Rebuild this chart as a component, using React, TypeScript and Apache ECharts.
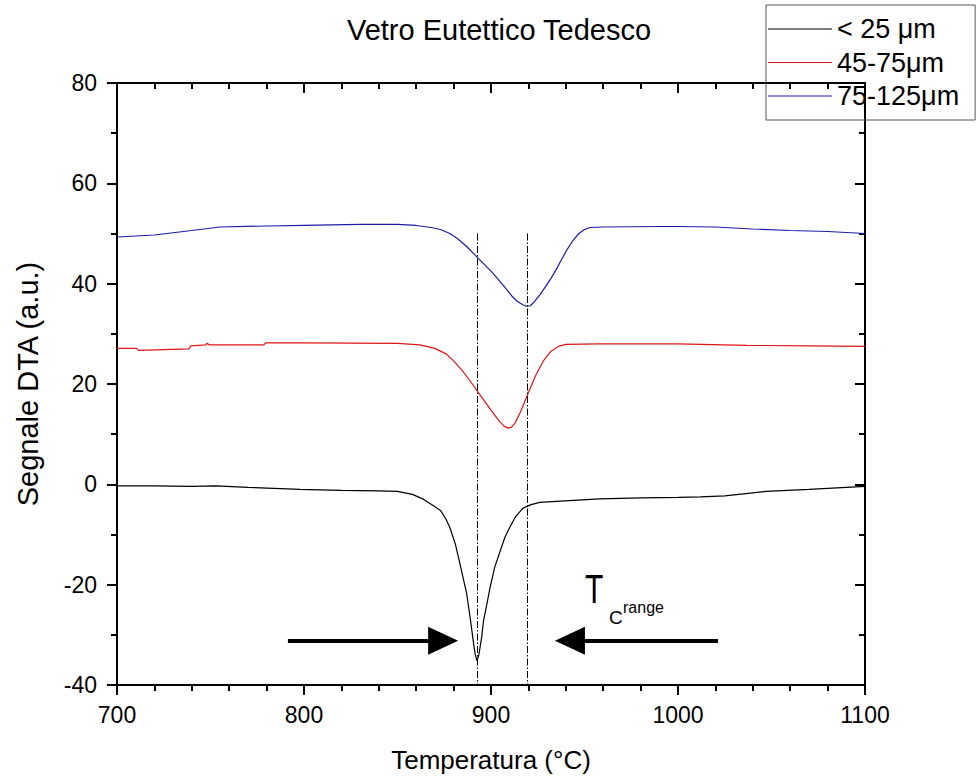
import React, { useEffect, useRef } from "react";
import * as echarts from "echarts";

const FONT = "'Liberation Sans', Arial, sans-serif";

const seriesNames = ["< 25 μm", "45-75μm", "75-125μm"];
const seriesColors = ["#000000", "#e01515", "#1c1ca8"];

// < 25 µm
const blackT = [700, 720, 740, 753, 770, 798, 820, 840, 850, 858, 864, 869, 873, 876, 878, 881, 883, 885, 887, 889, 890.5, 891.5, 892.5, 893.5, 895, 896, 898, 899.5, 902, 905, 907.5, 910, 913, 917, 921, 926, 935, 944, 958, 980, 1000, 1012, 1025, 1035, 1047, 1070, 1100];
const blackV = [-0.3, -0.3, -0.4, -0.3, -0.6, -1.0, -1.2, -1.3, -1.4, -2.0, -3.0, -4.2, -5.2, -7.0, -8.6, -12, -15.2, -18.5, -21.8, -27, -31.2, -33.8, -35.2, -34, -30.5, -27.2, -23.5, -20.6, -16.5, -13.2, -10.5, -8.6, -6.5, -4.8, -4.1, -3.6, -3.4, -3.2, -2.9, -2.7, -2.6, -2.5, -2.3, -1.9, -1.4, -1.0, -0.4];

// 45-75 µm
const redT = [700, 710.5, 711.5, 738.5, 739.5, 747.5, 748, 749.5, 778.5, 779.5, 800, 850, 862, 870, 876, 880, 885, 890, 895, 900, 904, 907, 909, 911, 913, 916, 920, 924, 928, 932, 936, 940, 958, 1000, 1037, 1070, 1100];
const redV = [27.1, 27.1, 26.7, 27.0, 27.6, 27.8, 28.1, 27.8, 27.8, 28.2, 28.2, 28.1, 27.8, 27.1, 26.0, 24.6, 22.5, 20.0, 17.4, 14.8, 12.8, 11.6, 11.2, 11.4, 12.3, 14.6, 18.3, 21.8, 24.6, 26.5, 27.5, 27.9, 28.0, 28.0, 27.7, 27.6, 27.5];

// 75-125 µm
const blueT = [700, 720, 740, 755, 780, 800, 830, 850, 860, 868, 873, 878, 882, 887, 892, 896, 900, 904, 908, 911, 914, 917, 919, 921, 923, 926, 929, 932, 935, 938, 941, 944, 947, 950, 953, 960, 990, 1000, 1020, 1040, 1060, 1080, 1100];
const blueV = [49.3, 49.7, 50.6, 51.3, 51.5, 51.6, 51.8, 51.8, 51.6, 51.2, 50.8, 50.0, 49.0, 47.4, 45.5, 44.0, 42.5, 40.8, 39.0, 37.6, 36.5, 35.8, 35.5, 35.6, 36.3, 37.7, 39.3, 41.0, 42.9, 45.0, 47.0, 48.7, 50.0, 50.8, 51.2, 51.3, 51.4, 51.4, 51.3, 50.9, 50.6, 50.4, 50.0];

// crystallisation range markers
const rangeT = [892.5, 919.5];
const rangeTop = 50;
const rangeBottom = -40;

// arrows (data coords)
const arrowY = -31.2;
const arrowRight = [791.4, 874.4]; // tail, head centre
const arrowLeft = [1021.4, 942.2];

const xTicks = { min: 700, max: 1100, interval: 100 };
const yTicks = { min: -40, max: 80, interval: 20 };

const zip = (t: number[], v: number[]) => t.map((x, i) => [x, v[i]]);

export default function App() {
  const ref = useRef<HTMLDivElement>(null);
  useEffect(() => {
    if (!ref.current) return;
    const chart = echarts.init(ref.current, undefined, { renderer: "svg" });
    const axisLine = { show: true, onZero: false, lineStyle: { color: "#000", width: 2 } };
    const baseX = {
      type: "value" as const,
      min: xTicks.min,
      max: xTicks.max,
      interval: xTicks.interval,
      splitLine: { show: false },
      axisLine,
      minorTick: { show: true, splitNumber: 5, length: 6, lineStyle: { color: "#000", width: 2 } },
    };
    const baseY = {
      type: "value" as const,
      min: yTicks.min,
      max: yTicks.max,
      interval: yTicks.interval,
      splitLine: { show: false },
      axisLine,
      minorTick: { show: true, splitNumber: 2, length: 6, lineStyle: { color: "#000", width: 2 } },
    };
    const datas = [zip(blackT, blackV), zip(redT, redV), zip(blueT, blueV)];
    const series: any[] = datas.map((d, i) => ({
      name: seriesNames[i],
      type: "line",
      data: d,
      symbol: "none",
      lineStyle: { color: seriesColors[i], width: 1.2 },
      itemStyle: { color: seriesColors[i] },
      silent: true,
    }));
    series.push({
      name: "markers",
      type: "line",
      data: [],
      silent: true,
      markLine: {
        silent: true,
        symbol: ["none", "none"],
        label: { show: false },
        lineStyle: { color: "#000", width: 1, type: [7, 2, 1.5, 2] },
        data: rangeT.map((t) => [
          { coord: [t, rangeTop] },
          { coord: [t, rangeBottom] },
        ]),
      },
    });
    series.push({
      name: "arrows",
      type: "line",
      data: [],
      silent: true,
      markLine: {
        silent: true,
        symbol: ["none", "triangle"],
        symbolSize: [28, 30],
        label: { show: false },
        lineStyle: { color: "#000", width: 4, type: "solid" },
        data: [
          [{ coord: [arrowRight[0], arrowY] }, { coord: [arrowRight[1], arrowY] }],
          [{ coord: [arrowLeft[0], arrowY] }, { coord: [arrowLeft[1], arrowY] }],
        ],
      },
    });

    chart.setOption({
      animation: false,
      textStyle: { fontFamily: FONT },
      title: {
        text: "Vetro Eutettico Tedesco",
        left: 494,
        textAlign: "center",
        top: 10,
        textStyle: { fontFamily: FONT, fontSize: 29, fontWeight: "normal", color: "#000" },
      },
      legend: {
        data: seriesNames,
        orient: "vertical",
        left: 766,
        top: 5,
        padding: [10, 16, 10, 2],
        itemGap: 5.5,
        itemWidth: 64,
        itemHeight: 1,
        icon: "rect",
        borderColor: "#555",
        borderWidth: 1,
        textStyle: { fontFamily: FONT, fontSize: 27, color: "#000", lineHeight: 28 },
      },
      grid: { left: 117, right: 111, top: 83, bottom: 95 },
      xAxis: [
        {
          ...baseX,
          position: "bottom",
          name: "Temperatura (°C)",
          nameLocation: "middle",
          nameGap: 62,
          nameTextStyle: { fontFamily: FONT, fontSize: 26, color: "#000" },
          axisTick: { show: true, inside: false, length: 10, lineStyle: { color: "#000", width: 2 } },
          axisLabel: { show: true, margin: 18, fontFamily: FONT, fontSize: 23, color: "#000", formatter: (v: number) => String(v) },
        },
        {
          ...baseX,
          position: "top",
          axisTick: { show: true, inside: true, length: 10, lineStyle: { color: "#000", width: 2 } },
          axisLabel: { show: false },
        },
      ],
      yAxis: [
        {
          ...baseY,
          position: "left",
          name: "Segnale DTA (a.u.)",
          nameLocation: "middle",
          nameGap: 75,
          nameTextStyle: { fontFamily: FONT, fontSize: 29, color: "#000" },
          axisTick: { show: true, inside: false, length: 10, lineStyle: { color: "#000", width: 2 } },
          axisLabel: { show: true, margin: 20, fontFamily: FONT, fontSize: 23, color: "#000", formatter: (v: number) => String(v) },
        },
        {
          ...baseY,
          position: "right",
          axisTick: { show: true, inside: true, length: 10, lineStyle: { color: "#000", width: 2 } },
          axisLabel: { show: false },
        },
      ],
      graphic: [
        {
          type: "text",
          x: 585,
          y: 589,
          scaleX: 0.75,
          style: { text: "T", fontFamily: FONT, fontSize: 40, fill: "#000", verticalAlign: "middle", align: "left" },
        },
        {
          type: "text",
          x: 609,
          y: 617,
          style: { text: "C", fontFamily: FONT, fontSize: 19, fill: "#000", verticalAlign: "middle", align: "left" },
        },
        {
          type: "text",
          x: 623,
          y: 607,
          style: { text: "range", fontFamily: FONT, fontSize: 16, fill: "#000", verticalAlign: "middle", align: "left" },
        },
      ],
      series,
    });
    return () => chart.dispose();
  }, []);
  return (
    <div
      ref={ref}
      style={{ position: "fixed", left: 0, top: 0, width: 976, height: 780, background: "#fff" }}
    />
  );
}
